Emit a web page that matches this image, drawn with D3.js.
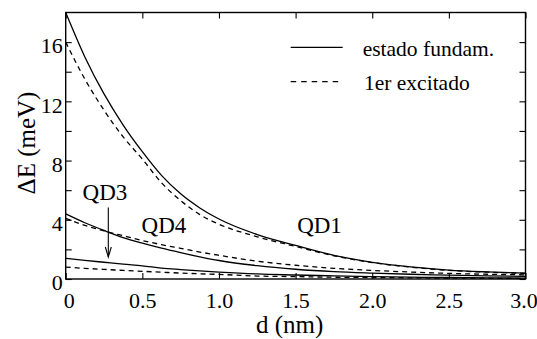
<!DOCTYPE html>
<html>
<head>
<meta charset="utf-8">
<script src="https://cdn.jsdelivr.net/npm/d3@7/dist/d3.min.js"></script>
</head>
<body style="margin:0">
<svg id="chart" width="537" height="339" font-family="Liberation Serif" style="display:block"></svg>
<script>
// Interdot distance d (nm)
const dValues = [0, 0.125, 0.25, 0.375, 0.5, 0.625, 0.75, 0.875, 1.0, 1.25, 1.5, 1.75, 2.0, 2.25, 2.5, 2.75, 3.0];

// Energy shift ΔE (meV) for each dot: ground state and first excited state
const qd1Ground  = [18.0, 15.0, 12.5, 10.4, 8.6, 7.0, 5.75, 4.8, 4.05, 3.0, 2.27, 1.6, 1.13, 0.82, 0.6, 0.48, 0.4];
const qd1Excited = [16.0, 13.5, 11.4, 9.6, 8.1, 6.5, 5.3, 4.35, 3.7, 2.85, 2.2, 1.57, 1.11, 0.8, 0.58, 0.46, 0.38];
const qd4Ground  = [4.4, 3.8, 3.28, 2.8, 2.42, 2.08, 1.78, 1.5, 1.25, 0.9, 0.66, 0.5, 0.4, 0.32, 0.26, 0.21, 0.18];
const qd4Excited = [4.1, 3.62, 3.25, 2.92, 2.6, 2.32, 2.07, 1.82, 1.6, 1.2, 0.93, 0.72, 0.58, 0.47, 0.38, 0.32, 0.28];
const qd3Ground  = [1.4, 1.26, 1.13, 1.0, 0.89, 0.74, 0.64, 0.55, 0.47, 0.34, 0.27, 0.21, 0.16, 0.12, 0.1, 0.08, 0.06];
const qd3Excited = [0.8, 0.72, 0.65, 0.58, 0.52, 0.46, 0.4, 0.35, 0.31, 0.2, 0.16, 0.12, 0.1, 0.08, 0.06, 0.05, 0.04];

// Axis ticks
const xTicks = [0, 0.5, 1.0, 1.5, 2.0, 2.5, 3.0];
const xTickLabels = ["0", "0.5", "1.0", "1.5", "2.0", "2.5", "3.0"];
const yMajorTicks = [0, 4, 8, 12, 16];
const yTickLabels = ["0", "4", "8", "12", "16"];
const yMinorTicks = [2, 6, 10, 14];

// Legend entries and curve labels
const legendLabels = ["estado fundam.", "1er excitado"];
const dotLabels = ["QD1", "QD4", "QD3"];

const FONT = "Liberation Serif";

const svg = d3.select("#chart");
const plotLeft = 65.7, plotRight = 525.5, plotTop = 12.5, plotBottom = 279;

const x = d3.scaleLinear().domain([0, 3]).range([plotLeft, plotRight]);
const y = d3.scaleLinear().domain([0, 18]).range([plotBottom, plotTop]);

// Serif text helper
function serif(sel, size) {
  return sel.attr("font-family", FONT)
    .style("font-family", `"${FONT}"`)
    .style("font-size", size + "px")
    .attr("fill", "#000");
}

svg.append("defs").append("clipPath").attr("id", "plot-clip")
  .append("rect").attr("x", plotLeft).attr("y", plotTop)
  .attr("width", plotRight - plotLeft).attr("height", plotBottom - plotTop);

// Curves
const series = [
  { values: qd1Ground, dashed: false },
  { values: qd1Excited, dashed: true },
  { values: qd4Ground, dashed: false },
  { values: qd4Excited, dashed: true },
  { values: qd3Ground, dashed: false },
  { values: qd3Excited, dashed: true }
];

const line = d3.line()
  .x((v, i) => x(dValues[i]))
  .y(v => y(v))
  .curve(d3.curveMonotoneX);

const curves = svg.append("g").attr("clip-path", "url(#plot-clip)");
series.forEach(s => {
  curves.append("path")
    .attr("d", line(s.values))
    .attr("fill", "none")
    .attr("stroke", "#000")
    .attr("stroke-width", 1.3)
    .attr("stroke-dasharray", s.dashed ? "5,4" : null);
});

// Axes: ticks pointing inward on all four sides
const tickLen = 6;
const axisBottom = d3.axisBottom(x).tickValues(xTicks).tickSizeInner(-tickLen).tickSizeOuter(0)
  .tickFormat((d, i) => xTickLabels[i]).tickPadding(13);
const axisTop = d3.axisTop(x).tickValues(xTicks).tickSizeInner(-tickLen).tickSizeOuter(0).tickFormat("");
const yAll = yMajorTicks.concat(yMinorTicks).sort((a, b) => a - b);
const axisLeft = d3.axisLeft(y).tickValues(yAll).tickSizeInner(-tickLen).tickSizeOuter(0)
  .tickFormat(d => {
    const k = yMajorTicks.indexOf(d);
    return k >= 0 ? yTickLabels[k] : "";
  }).tickPadding(3);
const axisRight = d3.axisRight(y).tickValues(yAll).tickSizeInner(-tickLen).tickSizeOuter(0).tickFormat("");

function styleAxis(g) {
  g.select(".domain").remove();
  g.attr("font-family", FONT).attr("font-size", 22);
  g.selectAll(".tick line").attr("stroke", "#000").attr("stroke-width", 1.1);
  serif(g.selectAll(".tick text"), 22);
}

const lastX = xTicks.length - 1;
svg.append("g").attr("transform", `translate(0,${plotBottom})`).call(axisBottom).call(styleAxis)
  .selectAll(".tick text").attr("dx", (d, i) => i === 0 ? 3 : (i === lastX ? -2 : 0));
svg.append("g").attr("transform", `translate(0,${plotTop})`).call(axisTop).call(styleAxis);
svg.append("g").attr("transform", `translate(${plotLeft},0)`).call(axisLeft).call(styleAxis)
  .selectAll(".tick text").attr("dy", "0.72em").attr("transform", "translate(0,-5)");
svg.append("g").attr("transform", `translate(${plotRight},0)`).call(axisRight).call(styleAxis);

// Frame
svg.append("rect")
  .attr("x", plotLeft).attr("y", plotTop)
  .attr("width", plotRight - plotLeft).attr("height", plotBottom - plotTop)
  .attr("fill", "none").attr("stroke", "#000").attr("stroke-width", 1.4);

// Axis titles
serif(svg.append("text"), 25)
  .attr("x", x(1.5) - 6).attr("y", 333)
  .attr("text-anchor", "middle")
  .text("d (nm)");

serif(svg.append("text"), 25)
  .attr("transform", "translate(35,143) rotate(-90)")
  .attr("text-anchor", "middle")
  .text("ΔE (meV)");

// Legend
const legend = svg.append("g");
legendLabels.forEach((lab, i) => {
  const ly = 47.3 + i * 34.4;
  legend.append("line")
    .attr("x1", 290.7).attr("x2", i === 0 ? 342.7 : 339)
    .attr("y1", ly).attr("y2", ly)
    .attr("stroke", "#000").attr("stroke-width", 1.3)
    .attr("stroke-dasharray", i === 0 ? null : "5.5,5");
  serif(legend.append("text"), 21.5)
    .attr("x", i === 0 ? 362.7 : 364).attr("y", ly + 8.3)
    .text(lab);
});

// Dot labels
const labelPos = [
  { d: 1.51, e: 3.1 },
  { d: 0.495, e: 3.1 },
  { d: 0.11, e: 5.35 }
];
dotLabels.forEach((lab, i) => {
  serif(svg.append("text"), 23)
    .attr("x", x(labelPos[i].d)).attr("y", y(labelPos[i].e))
    .text(lab);
});

// Arrow pointing from the QD3 label down to its curves
const ax = x(0.278), ay1 = 207.5, ay2 = 257;
svg.append("line")
  .attr("x1", ax).attr("x2", ax).attr("y1", ay1).attr("y2", ay2)
  .attr("stroke", "#000").attr("stroke-width", 1.1);
svg.append("path")
  .attr("d", `M${ax - 3},${ay2 - 10} L${ax},${ay2} L${ax + 3},${ay2 - 10}`)
  .attr("fill", "none").attr("stroke", "#000").attr("stroke-width", 1.1);
</script>
</body>
</html>
